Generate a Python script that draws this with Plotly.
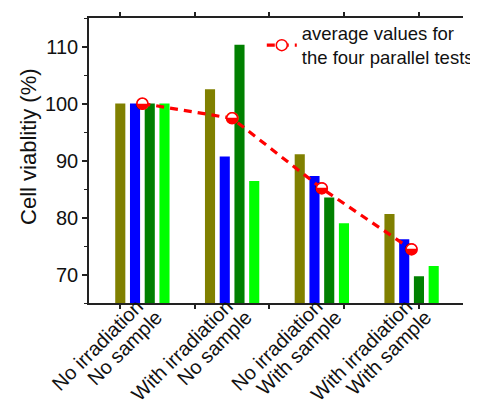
import plotly.graph_objects as go

# ---- data ----
groups_line1 = ["No irradiation", "With irradiation", "No irradiation", "With irradiation"]
groups_line2 = ["No sample", "No sample", "With sample", "With sample"]
group_pos = [0, 1, 2, 3]
test1 = [100.0, 102.5, 91.1, 80.6]
test2 = [100.0, 90.7, 87.3, 76.2]
test3 = [100.0, 110.3, 83.5, 69.7]
test4 = [100.0, 86.4, 79.0, 71.5]
average = [100.0, 97.4, 85.1, 74.4]
minor_tick_pos = [-0.255, 0.587, 1.416, 2.252, 3.088]
y_ticks = [70, 80, 90, 100, 110]
y_title = "Cell viablitiy (%)"

FONT = "Liberation Sans, Arial, sans-serif"
AX = "#222222"
TXT = "#111111"

fig = go.Figure()
for vals, col in zip([test1, test2, test3, test4],
                     ["#808000", "#0000FF", "#008000", "#00FF00"]):
    fig.add_trace(go.Bar(x=group_pos, y=vals, marker=dict(color=col, line=dict(width=0)),
                         showlegend=False))

fig.add_trace(go.Scatter(
    x=group_pos, y=average, mode="lines+markers",
    name="average values for<br>the four parallel tests",
    line=dict(color="#FF0000", width=3.2, dash="8px,6px"),
    marker=dict(symbol="circle", size=11, color="white",
                line=dict(color="#FF0000", width=1.5)),
))
# lower half filled red (half-filled circle glyph)
fig.add_trace(go.Scatter(
    x=group_pos, y=average, mode="text", text=["\u25D2"] * len(group_pos),
    textposition="middle center",
    textfont=dict(family="DejaVu Sans", size=16, color="#FF0000"),
    showlegend=False, hoverinfo="skip",
))
# helper traces so the overlay axes are drawn
for ax in ["x2", "x3", "x4"]:
    fig.add_trace(go.Scatter(x=[group_pos[0]], y=[average[0]], xaxis=ax, mode="markers",
                             marker=dict(opacity=0), showlegend=False, hoverinfo="skip"))

label_axis = dict(overlaying="x", matches="x", anchor="free", side="bottom",
                  tickvals=group_pos, tickangle=-45, ticks="", showline=False,
                  showgrid=False, zeroline=False, automargin=False,
                  tickfont=dict(size=20, family=FONT, color=TXT))

fig.update_layout(
    width=478, height=403,
    margin=dict(l=81, r=8, t=7, b=108),
    plot_bgcolor="white", paper_bgcolor="white",
    barmode="group", bargap=0.343, bargroupgap=0.314,
    font=dict(family=FONT, color=TXT),
    xaxis=dict(range=[-0.595, 3.573], showticklabels=False, ticks="",
               showline=True, linecolor=AX, linewidth=1.5,
               mirror=True, showgrid=False, zeroline=False, automargin=False),
    xaxis2=dict(overlaying="x", matches="x", side="bottom", tickvals=minor_tick_pos,
                ticks="outside", ticklen=4, tickcolor=AX, tickwidth=1.5,
                showticklabels=False, showline=True, linecolor=AX, linewidth=1.5,
                mirror="ticks", showgrid=False, zeroline=False, automargin=False),
    xaxis3=dict(label_axis, ticktext=groups_line1, position=0.046, ticklabelshift=-5),
    xaxis4=dict(label_axis, ticktext=groups_line2, position=0.008, ticklabelshift=14),
    yaxis=dict(range=[65, 115], tickvals=y_ticks, ticks="outside", ticklen=5,
               tickcolor=AX, tickwidth=1.5, showline=True, linecolor=AX, linewidth=1.5,
               showgrid=False, zeroline=False, automargin=False,
               minor=dict(dtick=5, tick0=65, ticks="outside", ticklen=3, tickcolor=AX,
                          tickwidth=1.2),
               tickfont=dict(size=20, family=FONT, color=TXT)),
    legend=dict(x=0.462, y=1.012, xanchor="left", yanchor="top",
                bgcolor="rgba(0,0,0,0)", font=dict(size=18.5, family=FONT, color=TXT)),
    annotations=[dict(text=y_title, textangle=-90, xref="paper", yref="paper",
                      x=-0.162, y=0.549, xanchor="center", yanchor="middle",
                      showarrow=False, font=dict(size=22, family=FONT, color=TXT))],
)

fig.write_html("out.html")
